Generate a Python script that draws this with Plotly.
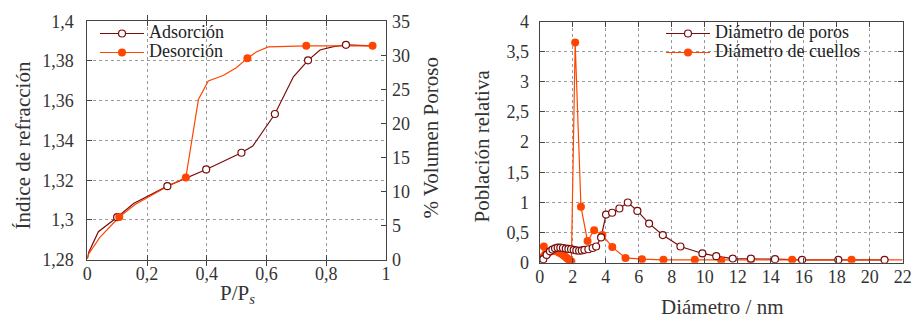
import plotly.graph_objects as go

# ---------------- Left chart data ----------------
ads_x = [0.0, 0.005, 0.037, 0.10, 0.155, 0.268, 0.398, 0.516, 0.554, 0.628, 0.69, 0.739, 0.779, 0.824, 0.866, 0.955]
ads_y = [1.2805, 1.2838, 1.2941, 1.3014, 1.3083, 1.3170, 1.3254, 1.3338, 1.3372, 1.3533, 1.3720, 1.3803, 1.3855, 1.3872, 1.3881, 1.3876]
ads_mx = [0.10, 0.268, 0.398, 0.516, 0.628, 0.739, 0.866]
ads_my = [1.3014, 1.3170, 1.3254, 1.3338, 1.3533, 1.3803, 1.3881]

des_x = [0.0, 0.005, 0.042, 0.107, 0.16, 0.268, 0.33, 0.372, 0.405, 0.455, 0.50, 0.536, 0.567, 0.606, 0.733, 0.955]
des_y = [1.2805, 1.2830, 1.2912, 1.3015, 1.3078, 1.3168, 1.3214, 1.3606, 1.3699, 1.3727, 1.3767, 1.3814, 1.3846, 1.3871, 1.3876, 1.3876]
des_mx = [0.107, 0.33, 0.536, 0.733, 0.955]
des_my = [1.3015, 1.3214, 1.3814, 1.3876, 1.3876]

# ---------------- Right chart data ----------------
pore_x = [0.22, 0.42, 0.62, 0.77, 0.93, 1.09, 1.25, 1.41, 1.58, 1.74, 1.90, 2.06, 2.22, 2.39, 2.55, 2.71, 2.95,
          3.21, 3.42, 3.72, 4.02, 4.39, 4.83, 5.34, 5.92, 6.63, 7.46, 8.53, 9.86, 10.7, 11.7, 12.8, 14.26, 15.9, 18.1, 20.9]
pore_y = [0.06, 0.13, 0.19, 0.22, 0.24, 0.25, 0.25, 0.245, 0.235, 0.23, 0.225, 0.215, 0.205, 0.20, 0.205, 0.215, 0.225,
          0.245, 0.27, 0.42, 0.80, 0.83, 0.90, 1.00, 0.86, 0.65, 0.46, 0.27, 0.155, 0.11, 0.07, 0.07, 0.06, 0.05, 0.05, 0.05]

neck_x = [0.25, 0.12, 0.22, 0.32, 0.42, 0.52, 0.62, 0.72, 0.82, 0.92, 1.02, 1.12, 1.22, 1.32, 1.42, 1.52, 1.62, 1.72,
          1.82, 1.92, 2.15, 2.5, 2.9, 3.3, 3.8, 4.4, 5.2, 6.2, 7.5, 9.4, 11.0, 12.8, 15.3, 18.9, 22.0]
neck_y = [0.27, 0.07, 0.10, 0.13, 0.15, 0.17, 0.185, 0.195, 0.20, 0.20, 0.19, 0.18, 0.165, 0.15, 0.13, 0.11, 0.085, 0.06,
          0.04, 0.02, 3.65, 0.93, 0.36, 0.54, 0.46, 0.26, 0.08, 0.06, 0.05, 0.05, 0.04, 0.05, 0.05, 0.05, 0.05]
neck_n_marked = 34  # the last line point has no marker

left_xticks = [0, 0.2, 0.4, 0.6, 0.8, 1]
left_yticks = [1.28, 1.30, 1.32, 1.34, 1.36, 1.38, 1.40]
left_y2ticks = [0, 5, 10, 15, 20, 25, 30, 35]
right_xticks = list(range(0, 23, 2))
right_yticks = [0, 0.5, 1, 1.5, 2, 2.5, 3, 3.5, 4]

DARK = "#7a0c0c"
ORANGE = "#ff4500"
FONT = "Liberation Serif, Times New Roman, serif"
TXT = "#333333"
LEG_SPAN = "<span style='font-size:18px'>{}</span>"

fig = go.Figure()

# left chart
fig.add_trace(go.Scatter(x=ads_x, y=ads_y, mode="lines", line=dict(color=DARK, width=1.2),
                         showlegend=False, hoverinfo="skip", xaxis="x", yaxis="y"))
fig.add_trace(go.Scatter(x=des_x, y=des_y, mode="lines", line=dict(color=ORANGE, width=1.2),
                         showlegend=False, hoverinfo="skip", xaxis="x", yaxis="y"))
fig.add_trace(go.Scatter(x=ads_mx, y=ads_my, mode="markers",
                         marker=dict(symbol="circle", size=7, color="white", line=dict(color=DARK, width=1.2)),
                         showlegend=False, xaxis="x", yaxis="y"))
fig.add_trace(go.Scatter(x=des_mx, y=des_my, mode="markers",
                         marker=dict(symbol="circle", size=8, color=ORANGE, line=dict(width=0)),
                         showlegend=False, xaxis="x", yaxis="y"))
# y2 scale holder
fig.add_trace(go.Scatter(x=[0], y=[0], mode="markers", marker=dict(opacity=0), hoverinfo="skip",
                         showlegend=False, xaxis="x", yaxis="y2"))
# legend entries (left)
fig.add_trace(go.Scatter(x=[None], y=[None], mode="lines+markers", name=LEG_SPAN.format("Adsorción"),
                         line=dict(color=DARK, width=1.2),
                         marker=dict(symbol="circle", size=7, color="white", line=dict(color=DARK, width=1.2)),
                         legend="legend", xaxis="x", yaxis="y"))
fig.add_trace(go.Scatter(x=[None], y=[None], mode="lines+markers", name=LEG_SPAN.format("Desorción"),
                         line=dict(color=ORANGE, width=1.2),
                         marker=dict(symbol="circle", size=8, color=ORANGE, line=dict(width=0)),
                         legend="legend", xaxis="x", yaxis="y"))

# right chart
fig.add_trace(go.Scatter(x=pore_x, y=pore_y, mode="lines", line=dict(color=DARK, width=1.2),
                         showlegend=False, hoverinfo="skip", xaxis="x2", yaxis="y3"))
fig.add_trace(go.Scatter(x=neck_x, y=neck_y, mode="lines", line=dict(color=ORANGE, width=1.2),
                         showlegend=False, hoverinfo="skip", xaxis="x2", yaxis="y3"))
fig.add_trace(go.Scatter(x=neck_x[:neck_n_marked], y=neck_y[:neck_n_marked], mode="markers",
                         marker=dict(symbol="circle", size=8, color=ORANGE, line=dict(width=0)),
                         showlegend=False, xaxis="x2", yaxis="y3"))
fig.add_trace(go.Scatter(x=pore_x, y=pore_y, mode="markers",
                         marker=dict(symbol="circle", size=7, color="white", line=dict(color=DARK, width=1.2)),
                         showlegend=False, xaxis="x2", yaxis="y3"))
fig.add_trace(go.Scatter(x=[None], y=[None], mode="lines+markers", name=LEG_SPAN.format("Diámetro de poros"),
                         line=dict(color=DARK, width=1.2),
                         marker=dict(symbol="circle", size=7, color="white", line=dict(color=DARK, width=1.2)),
                         legend="legend2", xaxis="x2", yaxis="y3"))
fig.add_trace(go.Scatter(x=[None], y=[None], mode="lines+markers", name=LEG_SPAN.format("Diámetro de cuellos"),
                         line=dict(color=ORANGE, width=1.2),
                         marker=dict(symbol="circle", size=8, color=ORANGE, line=dict(width=0)),
                         legend="legend2", xaxis="x2", yaxis="y3"))

W, H = 915, 323
def px_x(p): return p / W
def px_y(p): return 1 - p / H

grid = dict(showgrid=True, gridcolor="#9a9a9a", griddash="dot", gridwidth=1, zeroline=False,
            showline=True, linecolor="#444", linewidth=1, ticks="inside", ticklen=5, tickcolor="#444",
            tickfont=dict(family=FONT, size=18, color=TXT), automargin=False)

fig.update_layout(
    width=W, height=H,
    margin=dict(l=0, r=0, t=0, b=0, pad=0, autoexpand=False),
    paper_bgcolor="white", plot_bgcolor="white",
    separators=",.",
    font=dict(family=FONT, color=TXT),
    xaxis=dict(domain=[px_x(87.3), px_x(386.0)], range=[0, 1], tickvals=left_xticks,
               mirror="allticks", anchor="y", ticklabelstandoff=-2, **grid),
    yaxis=dict(domain=[px_y(259.7), px_y(21.2)], range=[1.28, 1.40], tickvals=left_yticks,
               mirror=True, anchor="x", ticklabelstandoff=9, **grid),
    yaxis2=dict(range=[0, 35], tickvals=left_y2ticks, overlaying="y", side="right", anchor="x",
                showgrid=False, zeroline=False, showline=False, ticks="inside", ticklen=5, tickcolor="#444",
                ticklabelstandoff=5,
                tickfont=dict(family=FONT, size=18, color=TXT), automargin=False),
    xaxis2=dict(domain=[px_x(539.7), px_x(902.7)], range=[0, 22], tickvals=right_xticks,
                mirror="allticks", anchor="y3", ticklabelstandoff=-2, **grid),
    yaxis3=dict(domain=[px_y(262.8), px_y(21.5)], range=[0, 4], tickvals=right_yticks,
                mirror="allticks", anchor="x2", ticklabelstandoff=6, **grid),
    legend=dict(x=px_x(95), y=px_y(19), xanchor="left", yanchor="top", bgcolor="rgba(0,0,0,0)",
                itemwidth=44, font=dict(family=FONT, size=12, color="#222")),
    legend2=dict(x=px_x(661), y=px_y(19), xanchor="left", yanchor="top", bgcolor="rgba(0,0,0,0)",
                 itemwidth=44, font=dict(family=FONT, size=12, color="#222")),
    annotations=[
        dict(text="Índice de refracción", x=px_x(22), y=px_y(145.5), xref="paper", yref="paper",
             xanchor="center", yanchor="middle",
             textangle=-90, showarrow=False, font=dict(size=21, family=FONT, color=TXT)),
        dict(text="% Volumen Poroso", x=px_x(430), y=px_y(138.5), xref="paper", yref="paper",
             xanchor="center", yanchor="middle",
             textangle=-90, showarrow=False, font=dict(size=21, family=FONT, color=TXT)),
        dict(text="Población relativa", x=px_x(481), y=px_y(146.5), xref="paper", yref="paper",
             xanchor="center", yanchor="middle",
             textangle=-90, showarrow=False, font=dict(size=21, family=FONT, color=TXT)),
        dict(text="P/P<sub><i>s</i></sub>", x=px_x(237), y=px_y(294), xref="paper", yref="paper",
             xanchor="center", yanchor="middle",
             showarrow=False, font=dict(size=21, family=FONT, color=TXT)),
        dict(text="Diámetro / nm", x=px_x(722), y=px_y(307), xref="paper", yref="paper",
             xanchor="center", yanchor="middle",
             showarrow=False, font=dict(size=21, family=FONT, color=TXT)),
    ],
)

fig.write_html("out.html", config={"displayModeBar": False},
               post_script="document.body.style.margin='0';document.body.style.overflow='hidden';")
